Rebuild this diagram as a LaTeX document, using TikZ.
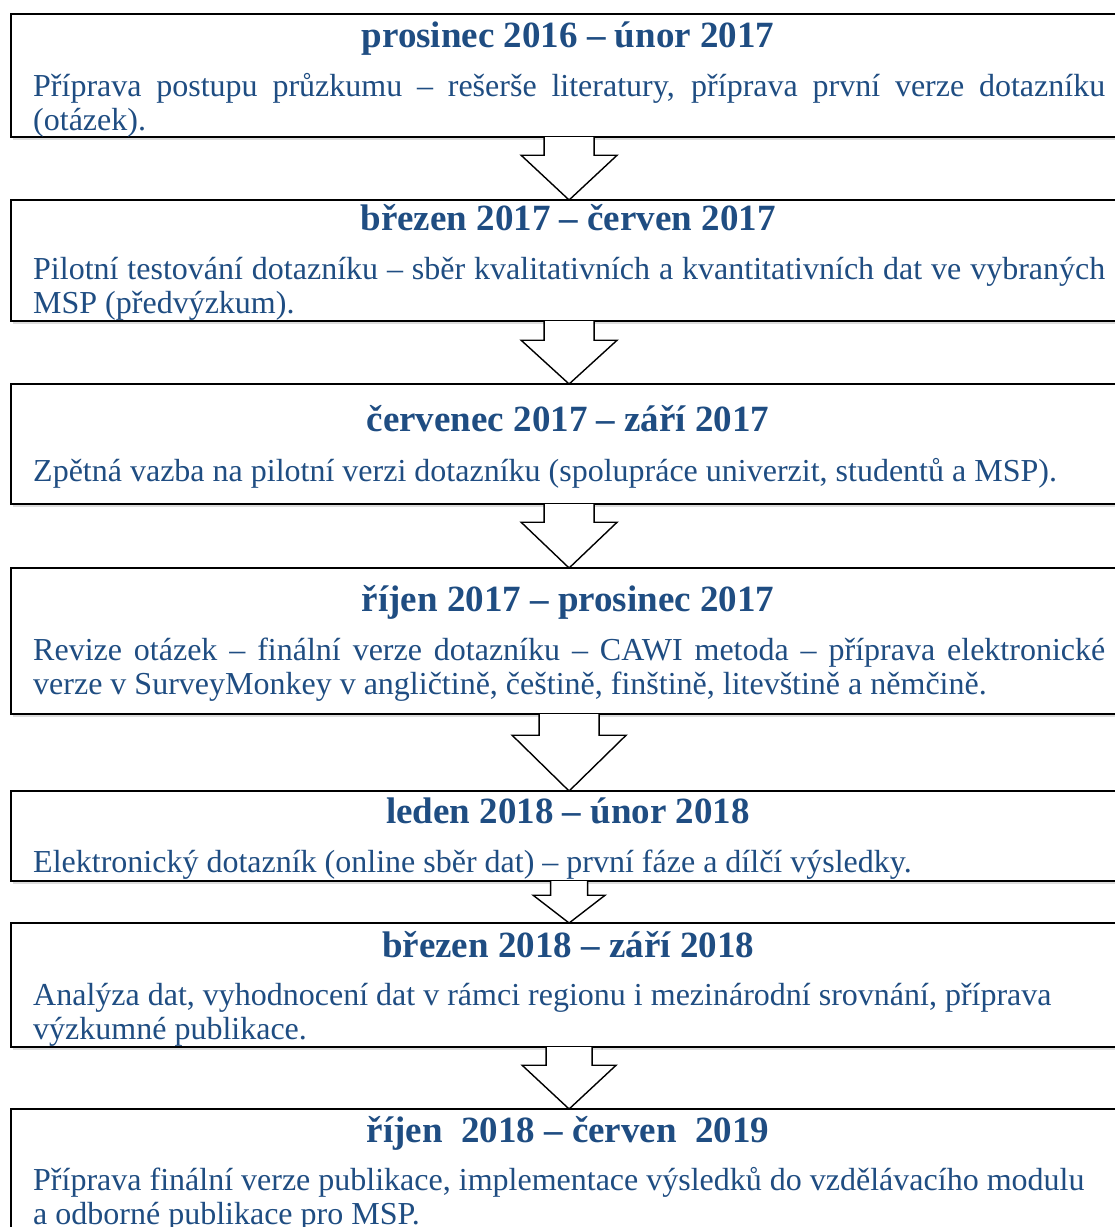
\documentclass[tikz,border=0pt]{standalone}
\usepackage{fontspec}
\setmainfont{Liberation Serif}
\usetikzlibrary{calc,shadows}
\definecolor{phaseblue}{RGB}{31,77,130}
\tikzset{
  phasebox/.style={draw=black, line width=2.2pt, fill=white, inner sep=0pt,
    anchor=north west, minimum width=1116pt,
    drop shadow={shadow xshift=1.5pt, shadow yshift=-3pt, opacity=0.28}},
  phasetitle/.style={anchor=base, inner sep=0pt, text=phaseblue,
    font=\fontsize{37}{40}\selectfont\bfseries},
  phasetext/.style={anchor=base west, inner sep=0pt, text=phaseblue, align=left,
    font=\fontsize{32}{33.5}\selectfont},
  flowarrow/.style={draw=black, line width=1.4pt, fill=white, line join=miter}
}
% block arrow from the bottom of one box to the top of the next
% #1 source box, #2 target box, #3 half shaft width, #4 half head width, #5 shaft length
\newcommand{\blockarrow}[5]{%
  \path[flowarrow]
    ($(#1.south)+(-#3,-1.2)$) -- ($(#1.south)+(-#3,#5)$) -- ($(#1.south)+(-#4,#5)$)
    -- ($(#2.north)+(0,1)$)
    -- ($(#1.south)+(#4,#5)$) -- ($(#1.south)+(#3,#5)$) -- ($(#1.south)+(#3,-1.2)$);}
\begin{document}
\begin{tikzpicture}[x=1pt,y=-1pt]
\useasboundingbox (0,0) rectangle (1115,1227);
\clip (0,0) rectangle (1115,1227);

% phase boxes
\node[phasebox, minimum height=123pt] (b1) at (10,13) {};
\node[phasebox, minimum height=121pt] (b2) at (10,199) {};
\node[phasebox, minimum height=120pt] (b3) at (10,383) {};
\node[phasebox, minimum height=146pt] (b4) at (10,567) {};
\node[phasebox, minimum height=90pt]  (b5) at (10,790) {};
\node[phasebox, minimum height=124pt] (b6) at (10,922) {};
\node[phasebox, minimum height=152pt] (b7) at (10,1108) {};

% arrows between consecutive phases
\blockarrow{b1}{b2}{25}{48}{17}
\blockarrow{b2}{b3}{25}{48}{18}
\blockarrow{b3}{b4}{25}{48}{17}
\blockarrow{b4}{b5}{30}{57}{20}
\blockarrow{b5}{b6}{18.5}{36}{13}
\blockarrow{b6}{b7}{23}{47}{17}

% titles
\node[phasetitle] (t1) at (568,47)   {prosinec 2016 – únor 2017};
\node[phasetitle] (t2) at (568,230)  {březen 2017 – červen 2017};
\node[phasetitle] (t3) at (568,431)  {červenec 2017 – září 2017};
\node[phasetitle] (t4) at (568,611)  {říjen 2017 – prosinec 2017};
\node[phasetitle] (t5) at (568,823)  {leden 2018 – únor 2018};
\node[phasetitle] (t6) at (568,957)  {březen 2018 – září 2018};
\node[phasetitle] (t7) at (568,1142) {říjen\ \ 2018 – červen\ \ 2019};

% descriptions (base anchor sits on the last line)
\node[phasetext] (d1) at (33,130) {\makebox[1072pt][s]{Příprava postupu průzkumu – rešerše literatury, příprava první verze dotazníku}\\(otázek).};
\node[phasetext] (d2) at (33,313) {\makebox[1072pt][s]{Pilotní testování dotazníku – sběr kvalitativních a kvantitativních dat ve vybraných}\\MSP (předvýzkum).};
\node[phasetext] (d3) at (33,481) {Zpětná vazba na pilotní verzi dotazníku (spolupráce univerzit, studentů a MSP).};
\node[phasetext] (d4) at (33,694) {\makebox[1072pt][s]{Revize otázek – finální verze dotazníku – CAWI metoda – příprava elektronické}\\verze v SurveyMonkey v angličtině, češtině, finštině, litevštině a němčině.};
\node[phasetext] (d5) at (33,872) {Elektronický dotazník (online sběr dat) – první fáze a dílčí výsledky.};
\node[phasetext] (d6) at (33,1039) {Analýza dat, vyhodnocení dat v rámci regionu i mezinárodní srovnání, příprava\\výzkumné publikace.};
\node[phasetext] (d7) at (33,1224) {Příprava finální verze publikace, implementace výsledků do vzdělávacího modulu\\a odborné publikace pro MSP.};
\end{tikzpicture}
\end{document}
